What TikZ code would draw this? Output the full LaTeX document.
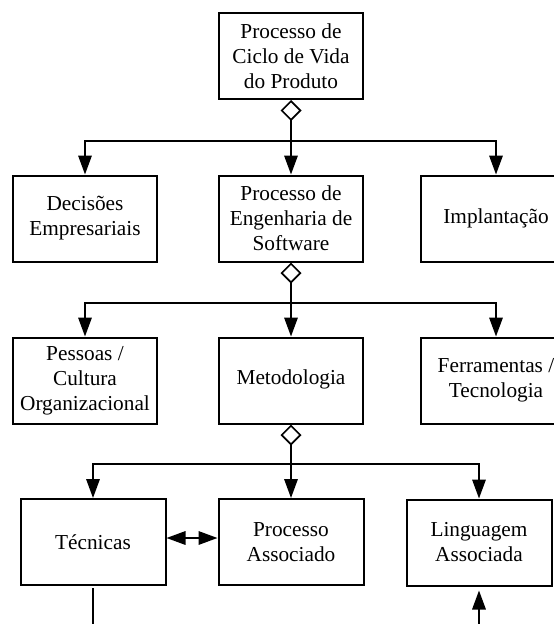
\documentclass[tikz,border=0pt]{standalone}
\usepackage{fontspec}
\setmainfont{Liberation Serif}
\usetikzlibrary{arrows.meta}
\tikzset{
  box/.style={draw, line width=2pt, minimum width=144pt, minimum height=86pt, inner sep=0pt, align=center, font=\fontsize{21.3}{25}\selectfont},
  conn/.style={line width=1.7pt},
  tip/.tip={Triangle[length=19pt,width=13.5pt]},
  arr/.style={conn, -tip},
  dia/.style={conn, {Diamond[open,length=21pt,width=21pt,line width=1.7pt]}-},
}
\begin{document}
\begin{tikzpicture}[x=1pt,y=-1pt]
\useasboundingbox (0,0) rectangle (554,624);
\node[box] (top) at (291,56) {Processo de\\Ciclo de Vida\\do Produto};
\node[box] (dec) at (85,218.5) {Decisões\\Empresariais};
\node[box] (eng) at (291,218.5) {Processo de\\Engenharia de\\Software};
\node[box, minimum width=150pt] (impl) at (496,218.5) {\raisebox{5pt}{Implantação}};
\node[box] (pes) at (85,380.5) {Pessoas /\\Cultura\\Organizacional};
\node[box] (met) at (291,380.5) {\raisebox{6pt}{Metodologia}};
\node[box, minimum width=150pt] (fer) at (496,380.5) {Ferramentas /\\Tecnologia};
\node[box, minimum width=145pt] (tec) at (93,542) {Técnicas};
\node[box, minimum width=145pt] (pa) at (291,542) {Processo\\Associado};
\node[box, minimum width=145pt] (lin) at (479,542.5) {Linguagem\\Associada};
\coordinate (j1) at (291,140.7);
\coordinate (j2) at (291,302.7);
\coordinate (j3) at (291,464);
\coordinate (b1) at (93,624);
\coordinate (b2) at (479,624);
\draw[dia] (top.south) -- (j1);
\draw[arr] (j1) -| (dec.north);
\draw[arr] (j1) -- (eng.north);
\draw[arr] (j1) -| (impl.north);
\draw[dia] (eng.south) -- (j2);
\draw[arr] (j2) -| (pes.north);
\draw[arr] (j2) -- (met.north);
\draw[arr] (j2) -| (fer.north);
\draw[dia] (met.south) -- (j3);
\draw[arr] (j3) -| (tec.north);
\draw[arr] (j3) -- (pa.north);
\draw[arr] (j3) -| (lin.north);
\draw[conn, tip-tip] ([yshift=4pt]tec.east) -- ([yshift=4pt]pa.west);
\draw[conn, shorten <=2pt] (tec.south) -- (b1);
\draw[arr, shorten >=4pt] (b2) -- (lin.south);
\end{tikzpicture}
\end{document}
